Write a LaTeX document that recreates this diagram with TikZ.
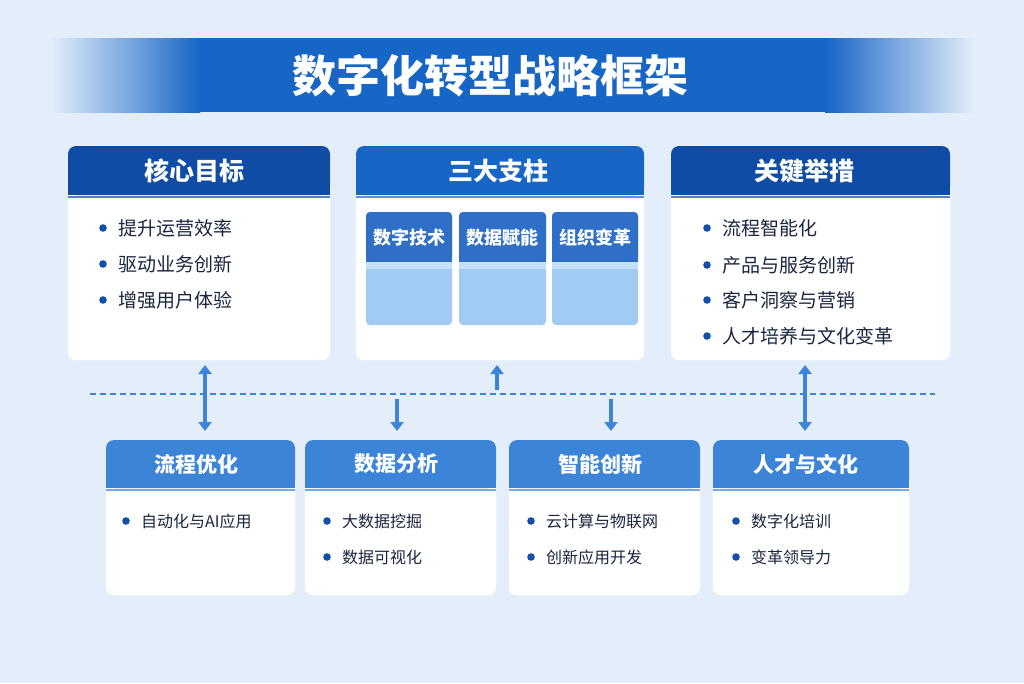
\documentclass[tikz,border=0pt]{standalone}
\usepackage{fontspec}
\setmainfont{Noto Sans CJK SC}
\usetikzlibrary{arrows.meta}
\definecolor{bgc}{HTML}{E4EEFA}
\definecolor{navy}{HTML}{0E4CA6}
\definecolor{midb}{HTML}{1766C6}
\definecolor{lowb}{HTML}{3C84D8}
\definecolor{pilb}{HTML}{2F6FC8}
\definecolor{pill}{HTML}{A0CBF2}
\definecolor{dotc}{HTML}{1550A8}
\definecolor{txtc}{HTML}{1A2540}
\tikzset{
    card/.style={fill=white, rounded corners=8pt, draw=white},
    headtop/.style={font=\bfseries\fontsize{25}{27}\selectfont, text=white},
    headlow/.style={font=\bfseries\fontsize{21}{23}\selectfont, text=white},
    item/.style={anchor=west, text=txtc, inner sep=0pt},
    link/.style={-{Triangle[length=9pt,width=13pt]}, line width=4pt, draw=lowb},
    twoway/.style={{Triangle[length=9pt,width=13pt]}-{Triangle[length=9pt,width=13pt]}, line width=4pt, draw=lowb}
}
% card with header band: x1, y1, x2, y2, header bottom, colour
\newcommand{\cardbox}[6]{
    \fill[card] (#1,#2) rectangle (#3,#4);
    \fill[#6, rounded corners=8pt] (#1,#2) rectangle (#3,#5);
    \fill[#6] (#1,#5-10) rectangle (#3,#5);
    \draw[#6!70, line width=1.5pt] (#1,#5+2) -- (#3,#5+2);
}
\newcommand{\dotitem}[4]{
    \fill[dotc] (#1,#2) circle (3.8pt);
    \node[item, font=\fontsize{#4}{#4}\selectfont] at (#1+15,#2) {#3};
}
\begin{document}
\begin{tikzpicture}[x=1pt,y=-1pt]
    \fill[bgc] (0,0) rectangle (1024,683);
    \useasboundingbox (0,0) rectangle (1024,683);

    % Title band
    \shade[left color=bgc, right color=midb] (50,38) rectangle (200,112);
    \fill[midb] (199,38) rectangle (826,112);
    \shade[left color=midb, right color=bgc] (825,38) rectangle (975,112);
    \node[text=white, font=\bfseries\fontsize{44}{48}\selectfont] (title) at (490,76) {数字化转型战略框架};

    % Top cards
    \cardbox{68}{146}{330}{360}{195}{navy}
    \node[headtop] (goal) at (194,171) {核心目标};
    \dotitem{103}{228}{提升运营效率}{19}
    \dotitem{103}{264}{驱动业务创新}{19}
    \dotitem{103}{300}{增强用户体验}{19}

    \cardbox{356}{146}{644}{360}{195}{midb}
    \node[headtop] (pillars) at (498,171) {三大支柱};
    \foreach \xa/\xb/\lab in {366/452/数字技术, 459/546/数据赋能, 552/638/组织变革}{
        \fill[pill, rounded corners=4pt] (\xa,212) rectangle (\xb,325);
        \fill[pilb, rounded corners=4pt] (\xa,212) rectangle (\xb,262);
        \fill[pilb] (\xa,250) rectangle (\xb,262);
        \fill[pill!60!white] (\xa,262) rectangle (\xb,269);
        \node[text=white, font=\bfseries\fontsize{18}{20}\selectfont] at ({(\xa+\xb)/2},238) {\lab};
    }

    \cardbox{671}{146}{950}{360}{195}{navy}
    \node[headtop] (steps) at (804,171) {关键举措};
    \dotitem{707}{228}{流程智能化}{19}
    \dotitem{707}{265}{产品与服务创新}{19}
    \dotitem{707}{300}{客户洞察与营销}{19}
    \dotitem{707}{336}{人才培养与文化变革}{19}

    % Divider
    \draw[lowb, line width=1.3pt, dash pattern=on 6pt off 4pt] (90,394) -- (935,394);

    % Bottom cards
    \cardbox{106}{440}{295}{595}{488}{lowb}
    \node[headlow] (flow) at (196,464) {流程优化};
    \dotitem{126}{521}{自动化与AI应用}{16}

    \cardbox{305}{440}{496}{595}{488}{lowb}
    \node[headlow] (data) at (396,464) {数据分析};
    \dotitem{327}{521}{大数据挖掘}{16}
    \dotitem{327}{557}{数据可视化}{16}

    \cardbox{509}{440}{700}{595}{488}{lowb}
    \node[headlow] (smart) at (600,464) {智能创新};
    \dotitem{531}{521}{云计算与物联网}{16}
    \dotitem{531}{557}{创新应用开发}{16}

    \cardbox{713}{440}{909}{595}{488}{lowb}
    \node[headlow] (people) at (806,464) {人才与文化};
    \dotitem{736}{521}{数字化培训}{16}
    \dotitem{736}{557}{变革领导力}{16}

    % Connectors
    \coordinate (a1) at (205,365); \coordinate (a2) at (205,431);
    \coordinate (b1) at (497,390); \coordinate (b2) at (497,365);
    \coordinate (c1) at (397,399); \coordinate (c2) at (397,431);
    \coordinate (d1) at (611,399); \coordinate (d2) at (611,431);
    \coordinate (e1) at (805,365); \coordinate (e2) at (805,431);
    \draw[twoway] (a1) -- (a2);
    \draw[link] (b1) -- (b2);
    \draw[link] (c1) -- (c2);
    \draw[link] (d1) -- (d2);
    \draw[twoway] (e1) -- (e2);
\end{tikzpicture}
\end{document}
